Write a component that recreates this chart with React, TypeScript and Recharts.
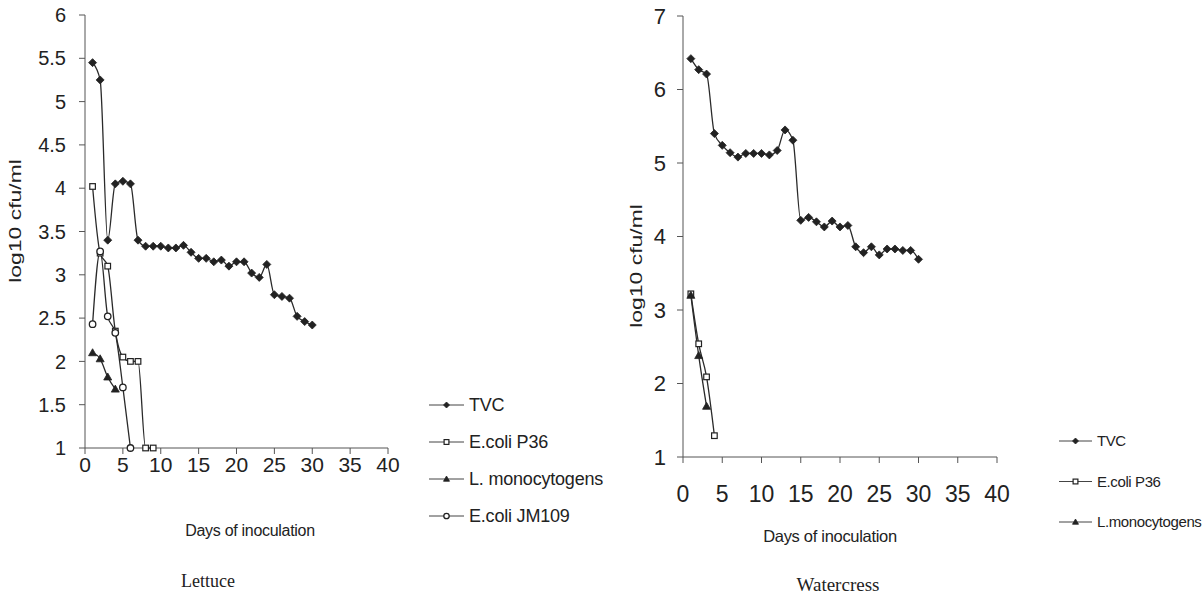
import React from "react";
import { LineChart, Line, XAxis, YAxis, Legend } from "recharts";

const FONT = '"Liberation Sans", Arial, Helvetica, sans-serif';
const INK = "#222";
const AXIS = "#555";

// days of inoculation, every series starts at day 1
const days = [1, 2, 3, 4, 5, 6, 7, 8, 9, 10, 11, 12, 13, 14, 15, 16, 17, 18, 19, 20, 21, 22, 23, 24, 25, 26, 27, 28, 29, 30];

// Lettuce, log10 cfu/ml
const lettuceTVC = [5.45, 5.25, 3.4, 4.05, 4.08, 4.05, 3.4, 3.33, 3.33, 3.33, 3.31, 3.31, 3.34, 3.26, 3.19, 3.19, 3.15, 3.17, 3.1, 3.15, 3.15, 3.02, 2.97, 3.12, 2.77, 2.75, 2.73, 2.52, 2.46, 2.42];
const lettuceP36 = [4.02, 3.25, 3.1, 2.35, 2.05, 2.0, 2.0, 1.0, 1.0];
const lettuceListeria = [2.1, 2.03, 1.82, 1.68];
const lettuceJM109 = [2.43, 3.27, 2.52, 2.33, 1.7, 1.0];

// Watercress, log10 cfu/ml
const watercressTVC = [6.42, 6.27, 6.21, 5.4, 5.24, 5.14, 5.08, 5.13, 5.13, 5.13, 5.11, 5.17, 5.45, 5.31, 4.22, 4.26, 4.2, 4.13, 4.21, 4.13, 4.15, 3.86, 3.78, 3.86, 3.75, 3.83, 3.83, 3.81, 3.81, 3.69];
const watercressP36 = [3.22, 2.54, 2.09, 1.29];
const watercressListeria = [3.2, 2.38, 1.69];

const dayTicks = [0, 5, 10, 15, 20, 25, 30, 35, 40];
const lettuceYTicks = [1, 1.5, 2, 2.5, 3, 3.5, 4, 4.5, 5, 5.5, 6];
const watercressYTicks = [1, 2, 3, 4, 5, 6, 7];

const lettuceNames = ["TVC", "E.coli P36", "L. monocytogens", "E.coli JM109"];
const watercressNames = ["TVC", "E.coli P36", "L.monocytogens"];

const toPoints = (values: number[]) => values.map((v, i) => ({ day: days[i], v }));

type Shape = "diamond" | "square" | "triangle" | "circle";

const shapeOf: Record<string, Shape> = {
  TVC: "diamond",
  "E.coli P36": "square",
  "L. monocytogens": "triangle",
  "L.monocytogens": "triangle",
  "E.coli JM109": "circle",
};

function Marker({ shape, x, y, s }: { shape: Shape; x: number; y: number; s: number }) {
  if (shape === "diamond")
    return <polygon points={`${x},${y - s} ${x + s},${y} ${x},${y + s} ${x - s},${y}`} fill={INK} stroke={INK} strokeWidth={0.8} />;
  if (shape === "square")
    return <rect x={x - s * 0.8} y={y - s * 0.8} width={s * 1.6} height={s * 1.6} fill="#fff" stroke={INK} strokeWidth={1.2} />;
  if (shape === "triangle")
    return <polygon points={`${x},${y - s} ${x + s},${y + s * 0.75} ${x - s},${y + s * 0.75}`} fill={INK} stroke={INK} strokeWidth={0.8} />;
  return <circle cx={x} cy={y} r={s * 0.9} fill="#fff" stroke={INK} strokeWidth={1.3} />;
}

const makeDot = (shape: Shape, s: number) => (props: any) => {
  const { cx, cy, index } = props;
  if (cx == null || cy == null) return <g key={`${shape}-${index}`} />;
  return <Marker key={`${shape}-${index}`} shape={shape} x={cx} y={cy} s={s} />;
};

function LegendList({ payload, order, rowGap, fontSize, lineLen, spacing }: any) {
  const items = [...(payload || [])].sort((a: any, b: any) => order.indexOf(a.value) - order.indexOf(b.value));
  return (
    <svg width={230} height={rowGap * items.length + 20} style={{ overflow: "visible" }}>
      {items.map((it: any, i: number) => {
        const cy = 10 + i * rowGap;
        return (
          <g key={it.value}>
            <line x1={0} x2={lineLen} y1={cy} y2={cy} stroke="#444" strokeWidth={1} />
            <Marker shape={shapeOf[it.value]} x={lineLen / 2} y={cy} s={3} />
            <text x={lineLen + 5} y={cy} dy="0.35em" fontSize={fontSize} fontFamily={FONT} fill={INK} letterSpacing={spacing}>
              {it.value}
            </text>
          </g>
        );
      })}
    </svg>
  );
}

const yTitle = (dx: number, dy: number) => (p: any) => {
  const { x, y } = p.viewBox;
  return (
    <text
      transform={`translate(${x + dx},${y + dy}) rotate(-90) scale(1.35,1)`}
      textAnchor="middle"
      dy="0.35em"
      fontSize={17}
      fontFamily={FONT}
      fill={INK}
    >
      log10 cfu/ml
    </text>
  );
};

const xTitle = (dx: number, dy: number, size: number) => (p: any) => {
  const { x, y } = p.viewBox;
  return (
    <text x={x + dx} y={y + dy} textAnchor="middle" fontSize={size} fontFamily={FONT} fill={INK} letterSpacing={-0.3}>
      Days of inoculation
    </text>
  );
};

const lineProps = {
  type: "monotone" as const,
  dataKey: "v",
  stroke: "#2a2a2a",
  strokeWidth: 1.3,
  isAnimationActive: false,
};

export default function App() {
  return (
    <div style={{ position: "absolute", left: 0, top: 0, width: 1203, height: 600, background: "#fff", fontFamily: FONT }}>
      <div style={{ position: "absolute", left: 0, top: 0 }}>
        <LineChart width={600} height={600} margin={{ top: 15, right: 212, bottom: 122, left: 25 }}>
          <XAxis
            dataKey="day"
            type="number"
            domain={[0, 40]}
            ticks={dayTicks}
            height={30}
            stroke={AXIS}
            tickSize={6}
            tickMargin={3}
            tick={{ fontSize: 21, fill: INK, fontFamily: FONT }}
            label={{ content: xTitle(165, 88, 16) }}
          />
          <YAxis
            type="number"
            domain={[1, 6]}
            ticks={lettuceYTicks}
            width={60}
            stroke={AXIS}
            tickSize={6}
            tickMargin={13}
            tick={{ fontSize: 20, fill: INK, fontFamily: FONT }}
            label={{ content: yTitle(-10, 206) }}
          />
          <Legend
            layout="vertical"
            align="center"
            verticalAlign="middle"
            width={230}
            height={170}
            wrapperStyle={{ left: 429, top: 395 }}
            content={(p: any) => <LegendList {...p} order={lettuceNames} rowGap={37} fontSize={18} lineLen={35} spacing={-0.2} />}
          />
          <Line {...lineProps} name={lettuceNames[0]} data={toPoints(lettuceTVC)} dot={makeDot("diamond", 4)} />
          <Line {...lineProps} name={lettuceNames[1]} data={toPoints(lettuceP36)} dot={makeDot("square", 3.5)} />
          <Line {...lineProps} name={lettuceNames[2]} data={toPoints(lettuceListeria)} dot={makeDot("triangle", 4)} />
          <Line {...lineProps} name={lettuceNames[3]} data={toPoints(lettuceJM109)} dot={makeDot("circle", 3.6)} />
        </LineChart>
      </div>

      <div style={{ position: "absolute", left: 600, top: 0 }}>
        <LineChart width={603} height={600} margin={{ top: 16, right: 206, bottom: 113, left: 23 }}>
          <XAxis
            dataKey="day"
            type="number"
            domain={[0, 40]}
            ticks={dayTicks}
            height={30}
            stroke={AXIS}
            tickSize={6}
            tickMargin={23}
            tick={{ fontSize: 23, fill: INK, fontFamily: FONT }}
            label={{ content: xTitle(147, 85, 16.5) }}
          />
          <YAxis
            type="number"
            domain={[1, 7]}
            ticks={watercressYTicks}
            width={60}
            stroke={AXIS}
            tickSize={6}
            tickMargin={11}
            tick={{ fontSize: 22, fill: INK, fontFamily: FONT }}
            label={{ content: yTitle(13, 250) }}
          />
          <Legend
            layout="vertical"
            align="center"
            verticalAlign="middle"
            width={230}
            height={150}
            wrapperStyle={{ left: 459, top: 431 }}
            content={(p: any) => <LegendList {...p} order={watercressNames} rowGap={40.5} fontSize={15} lineLen={33} spacing={-0.4} />}
          />
          <Line {...lineProps} name={watercressNames[0]} data={toPoints(watercressTVC)} dot={makeDot("diamond", 4)} />
          <Line {...lineProps} name={watercressNames[1]} data={toPoints(watercressP36)} dot={makeDot("square", 3.5)} />
          <Line {...lineProps} name={watercressNames[2]} data={toPoints(watercressListeria)} dot={makeDot("triangle", 4)} />
        </LineChart>
      </div>

      <div style={{ position: "absolute", left: 208, top: 570, transform: "translateX(-50%)", fontFamily: '"Liberation Serif", "Times New Roman", serif', fontSize: 18, color: INK, lineHeight: "22px", whiteSpace: "nowrap" }}>
        Lettuce
      </div>
      <div style={{ position: "absolute", left: 838, top: 574, transform: "translateX(-50%)", fontFamily: '"Liberation Serif", "Times New Roman", serif', fontSize: 19, color: INK, lineHeight: "22px", whiteSpace: "nowrap" }}>
        Watercress
      </div>
    </div>
  );
}
